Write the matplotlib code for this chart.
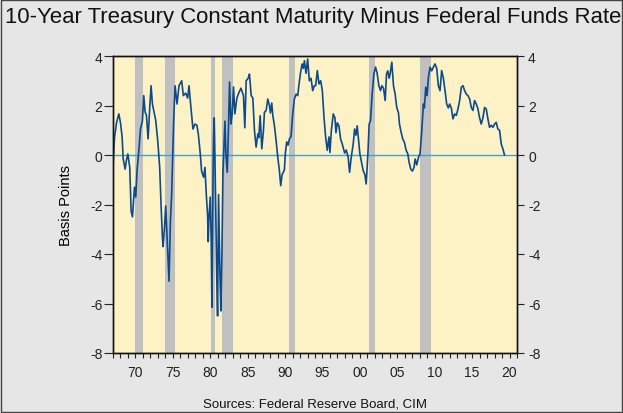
import matplotlib
matplotlib.use("Agg")
import matplotlib.pyplot as plt
from matplotlib.patches import Rectangle
from matplotlib.ticker import MultipleLocator, FixedLocator

plt.rcParams['font.family'] = ['Liberation Sans', 'DejaVu Sans']

# spread (10y treasury minus fed funds)
years = [
    1967.02, 1967.2, 1967.47, 1967.78, 1968.0, 1968.22, 1968.36, 1968.62, 1968.8, 1968.98,
    1969.24, 1969.42, 1969.6, 1969.87, 1970.04, 1970.22, 1970.49, 1970.67, 1970.93, 1971.11,
    1971.29, 1971.47, 1971.69, 1971.91, 1972.09, 1972.27, 1972.53, 1972.71, 1972.98, 1973.24,
    1973.42, 1973.6, 1973.69, 1973.87, 1974.04, 1974.22, 1974.49, 1974.67, 1974.84, 1975.11,
    1975.29, 1975.56, 1975.82, 1976.18, 1976.4, 1976.71, 1976.98, 1977.16, 1977.42, 1977.69,
    1977.96, 1978.22, 1978.4, 1978.67, 1978.84, 1979.11, 1979.29, 1979.47, 1979.64, 1979.73,
    1979.82, 1980.0, 1980.13, 1980.22, 1980.36, 1980.44, 1980.53, 1980.62, 1980.76, 1980.89,
    1980.98, 1981.11, 1981.29, 1981.42, 1981.56, 1981.69, 1981.87, 1981.96, 1982.09, 1982.27,
    1982.4, 1982.58, 1982.76, 1982.93, 1983.11, 1983.29, 1983.56, 1983.8, 1984.1, 1984.44,
    1984.62, 1984.8, 1985.07, 1985.24, 1985.47, 1985.69, 1985.91, 1986.13, 1986.36, 1986.49,
    1986.67, 1986.89, 1987.11, 1987.24, 1987.47, 1987.69, 1987.91, 1988.04, 1988.22, 1988.36,
    1988.58, 1988.8, 1989.02, 1989.24, 1989.42, 1989.6, 1989.91, 1990.04, 1990.22, 1990.4,
    1990.58, 1990.8, 1991.02, 1991.24, 1991.47, 1991.69, 1991.82, 1992.04, 1992.27, 1992.44,
    1992.58, 1992.8, 1993.02, 1993.24, 1993.47, 1993.69, 1993.91, 1994.09, 1994.31, 1994.53,
    1994.76, 1994.98, 1995.2, 1995.42, 1995.64, 1995.87, 1996.0, 1996.18, 1996.44, 1996.67,
    1996.8, 1996.98, 1997.2, 1997.42, 1997.64, 1997.96, 1998.18, 1998.44, 1998.62, 1998.84,
    1999.11, 1999.29, 1999.47, 1999.64, 1999.82, 2000.0, 2000.22, 2000.44, 2000.67, 2000.84,
    2001.07, 2001.24, 2001.42, 2001.64, 2001.87, 2002.09, 2002.31, 2002.53, 2002.76, 2002.93,
    2003.16, 2003.38, 2003.56, 2003.73, 2003.91, 2004.04, 2004.27, 2004.49, 2004.71, 2004.93,
    2005.16, 2005.29, 2005.51, 2005.73, 2005.96, 2006.18, 2006.4, 2006.58, 2006.8, 2007.02,
    2007.24, 2007.38, 2007.6, 2007.82, 2008.04, 2008.27, 2008.49, 2008.62, 2008.8, 2008.98,
    2009.16, 2009.38, 2009.6, 2009.82, 2010.04, 2010.27, 2010.49, 2010.71, 2010.93, 2011.16,
    2011.38, 2011.6, 2011.82, 2012.0, 2012.22, 2012.44, 2012.67, 2012.89, 2013.11, 2013.33,
    2013.56, 2013.78, 2014.0, 2014.22, 2014.44, 2014.67, 2014.89, 2015.11, 2015.33, 2015.56,
    2015.78, 2016.0, 2016.22, 2016.44, 2016.67, 2016.89, 2017.11, 2017.33, 2017.56, 2017.78,
    2018.0, 2018.22, 2018.44, 2018.67, 2018.89, 2019.11, 2019.33,
]
spread = [
    -0.36, 0.7, 1.3, 1.66, 1.3, 0.73, -0.16, -0.57, -0.2, 0.04,
    -0.5, -2.26, -2.5, -1.3, -1.7, -0.6, 0.3, 1.05, 1.37, 2.4,
    1.74, 1.6, 0.65, 1.9, 2.8, 2.06, 1.66, 1.4, 0.57, -0.5,
    -2.0, -3.3, -3.7, -3.0, -2.06, -3.3, -5.1, -2.7, -1.6, 1.4,
    2.8, 2.06, 2.8, 3.0, 2.4, 2.5, 2.3, 2.8, 1.9, 1.05,
    1.25, 1.2, 0.85, 0.04, -0.65, -0.9, -0.5, -1.6, -2.4, -3.5,
    -2.6, -1.7, -3.5, -6.15, -1.3, 0.7, 1.5, 0.0, -2.7, -5.3,
    -6.5, -1.6, -4.8, -6.3, -4.0, -0.77, 0.7, 1.37, 0.04, -0.7,
    0.7, 2.95, 1.25, 1.66, 2.75, 1.66, 2.3, 2.5, 2.7, 2.4,
    1.1, 3.0, 3.1, 3.27, 2.4, 2.3, 0.98, 0.32, 0.85, 0.7,
    1.59, 0.25, 1.0, 1.73, 1.8, 2.26, 2.0, 1.7, 2.1, 1.6,
    1.18, 0.58, -0.08, -0.63, -1.24, -0.8, -0.6, 0.08, 0.53, 0.4,
    0.65, 0.75, 1.66, 2.26, 2.46, 2.4, 2.75, 3.27, 3.68, 3.5,
    3.81, 3.3, 3.88, 3.0, 3.1, 2.6, 2.8, 2.8, 3.41, 2.87,
    3.0, 2.6, 1.53, 0.73, 0.19, 0.73, 0.1, 0.98, 1.66, 1.5,
    0.9, 1.3, 1.18, 0.65, 0.45, 0.08, 0.2, -0.1, -0.7, -0.1,
    0.45, 1.05, 0.8, 1.18, 0.6, 0.04, -0.3, -0.63, -0.8, -1.17,
    0.04, 1.25, 1.39, 2.46, 3.27, 3.55, 3.3, 2.8, 2.6, 2.8,
    2.7, 2.2, 3.27, 3.4, 3.1, 3.27, 3.75, 2.8, 2.46, 1.92,
    1.7, 1.25, 0.92, 0.65, 0.5, 0.19, 0.05, -0.3, -0.57, -0.65,
    -0.5, -0.16, -0.4, -0.1, 0.05, 0.98, 2.06, 1.9, 2.74, 2.4,
    3.14, 3.55, 3.4, 3.55, 3.68, 3.5, 2.8, 2.6, 3.41, 3.1,
    2.6, 2.06, 1.9, 2.06, 1.9, 1.46, 1.66, 1.6, 1.86, 2.2,
    2.74, 2.8, 2.6, 2.46, 2.4, 2.26, 1.92, 1.8, 2.2, 2.06,
    1.86, 1.5, 1.25, 1.5, 1.92, 1.86, 1.46, 1.12, 1.2, 1.12,
    1.25, 1.32, 1.05, 1.0, 0.45, 0.25, 0.0,
]

# recession shading (start, end)
recessions = [(1970.0, 1971.0), (1973.9, 1975.3), (1980.05, 1980.6), (1981.55, 1983.0),
              (1990.55, 1991.3), (2001.2, 2002.0), (2008.0, 2009.55)]

year_ticks = [1970, 1975, 1980, 1985, 1990, 1995, 2000, 2005, 2010, 2015, 2020]
year_labels = ["70", "75", "80", "85", "90", "95", "00", "05", "10", "15", "20"]
y_ticks = [-8, -6, -4, -2, 0, 2, 4]

fig = plt.figure(figsize=(6.23, 4.14), dpi=100)
fig.patch.set_facecolor("#e6e6e6")
fig.patches.append(Rectangle((0.002, 0.003), 0.996, 0.994, transform=fig.transFigure,
                             fill=False, edgecolor="#444444", linewidth=1.0))

ax = fig.add_axes([113 / 623, 60 / 414, 404 / 623, 297 / 414])
ax.set_facecolor("#fdf2c6")

for s, e in recessions:
    ax.axvspan(s, e, color="#c0c0c0", lw=0, zorder=1)

ax.axhline(0, color="#3ea3d2", lw=1.0, zorder=2)
ax.plot(years, spread, color="#0d4a8c", lw=1.2, zorder=3)

ax.set_xlim(1967.0, 2021.0)
ax.set_ylim(-8, 4)
ax.xaxis.set_major_locator(FixedLocator(year_ticks))
ax.set_xticklabels(year_labels)
ax.xaxis.set_minor_locator(MultipleLocator(1))
ax.set_yticks(y_ticks)
ax.set_yticklabels([str(v) for v in y_ticks])

ax.tick_params(axis="x", which="both", direction="out", length=3.5, width=0.8,
               pad=5.5, labelsize=10, colors="#222222", top=False)
ax.tick_params(axis="y", direction="out", length=6.5, width=0.8, pad=1,
               labelsize=10, colors="#222222")

ax2 = ax.twinx()
ax2.set_ylim(-8, 4)
ax2.set_yticks(y_ticks)
ax2.set_yticklabels([str(v) for v in y_ticks])
ax2.tick_params(axis="y", direction="out", length=5, width=0.8, pad=3,
                labelsize=10, colors="#222222")

for a in (ax, ax2):
    for sp in a.spines.values():
        sp.set_color("#111111")
        sp.set_linewidth(1.0)

ax.set_ylabel("Basis Points", fontsize=10.5, labelpad=12)

fig.text(5 / 623, 1 - 7 / 414, "10-Year Treasury Constant Maturity Minus Federal Funds Rate",
         ha="left", va="top", fontsize=15.9, color="#111111")
fig.text(315 / 623, 1 - 405 / 414, "Sources: Federal Reserve Board, CIM",
         ha="center", va="center", fontsize=9.5, color="#111111")

fig.savefig("out.png", dpi=100, facecolor=fig.get_facecolor())
